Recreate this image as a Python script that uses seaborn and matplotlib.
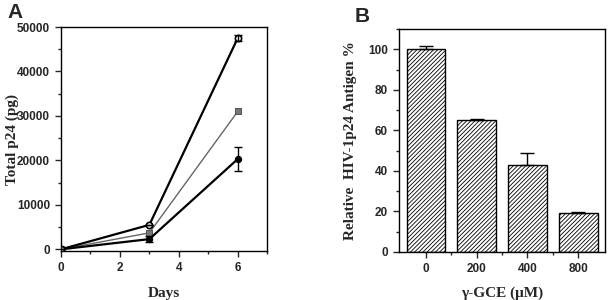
import matplotlib
matplotlib.use("Agg")
import matplotlib.pyplot as plt
import pandas as pd
import seaborn as sns
from matplotlib.ticker import MultipleLocator

# panel A: total p24 over days
days = [0, 3, 6]
open_circle = [0, 5500, 47500]
open_circle_err = [0, 0, 700]
grey_square = [0, 3700, 31000]
filled_circle = [0, 2300, 20300]
filled_circle_err = [0, 700, 2700]

# panel B: relative antigen vs concentration
gce = ["0", "200", "400", "800"]
rel_antigen = [100, 65.3, 43, 19]
rel_err = [1.5, 0.4, 5.8, 0.5]

sns.set_style("ticks")
plt.rcParams['font.family'] = ['Liberation Sans', 'DejaVu Sans']
plt.rcParams['hatch.linewidth'] = 0.6

tick_font = dict(family='Liberation Sans', weight='bold', size=8.5)
lab_font = dict(family='Liberation Serif', weight='bold', size=11)

fig = plt.figure(figsize=(6.1, 3.0), dpi=100)
ax1 = fig.add_axes([0.100, 0.163, 0.338, 0.747])
ax2 = fig.add_axes([0.654, 0.160, 0.338, 0.743])

# ---- A ----
sns.lineplot(x=days, y=grey_square, ax=ax1, color='#666666', lw=1.0,
             marker='s', markersize=4.5, markerfacecolor='#777777', markeredgecolor='#555555')
sns.lineplot(x=days, y=filled_circle, ax=ax1, color='black', lw=1.6,
             marker='o', markersize=4.5, markerfacecolor='black', markeredgecolor='black')
ax1.errorbar(days, filled_circle, yerr=filled_circle_err, fmt='none', ecolor='black',
             elinewidth=1, capsize=3, capthick=1)
sns.lineplot(x=days, y=open_circle, ax=ax1, color='black', lw=1.6,
             marker='o', markersize=4.5, markerfacecolor='white', markeredgecolor='black',
             markeredgewidth=1.2)
ax1.errorbar(days, open_circle, yerr=open_circle_err, fmt='none', ecolor='black',
             elinewidth=1, capsize=3, capthick=1)
ax1.set_xlim(0, 7)
ax1.set_ylim(-400, 50000)
ax1.set_xticks([0, 2, 4, 6])
ax1.set_yticks([0, 10000, 20000, 30000, 40000, 50000])
ax1.xaxis.set_minor_locator(MultipleLocator(1))
ax1.yaxis.set_minor_locator(MultipleLocator(5000))
ax1.set_xlabel('Days', fontdict=lab_font, labelpad=9)
ax1.set_ylabel('Total p24 (pg)', fontdict=lab_font)
ax1.yaxis.set_label_coords(-0.205, 0.5)

# ---- B ----
df_b = pd.DataFrame({'gce': gce, 'val': rel_antigen})
sns.barplot(data=df_b, x='gce', y='val', ax=ax2, color='white', edgecolor='black',
            linewidth=1.0, width=0.76, hatch='////////', errorbar=None)
ax2.errorbar(range(len(gce)), rel_antigen, yerr=[[0] * len(rel_err), rel_err],
             fmt='none', ecolor='black', elinewidth=1, capsize=5, capthick=1)
ax2.set_xlim(-0.53, 3.53)
ax2.set_ylim(0, 110)
ax2.set_yticks([0, 20, 40, 60, 80, 100])
ax2.yaxis.set_minor_locator(MultipleLocator(10))
ax2.set_xticks([0.5, 1.5, 2.5], minor=True)
ax2.set_xlabel('γ-GCE (μM)', fontdict=lab_font, labelpad=8)
ax2.set_ylabel('Relative  HIV-1p24 Antigen %', fontdict=lab_font, labelpad=8)

for ax in (ax1, ax2):
    for s in ax.spines.values():
        s.set_visible(True)
        s.set_linewidth(1.0)
        s.set_color('black')
    ax.tick_params(which='major', direction='out', length=4, width=1, pad=4)
    ax.tick_params(which='minor', direction='out', length=2.5, width=1)
    for lab in ax.get_xticklabels() + ax.get_yticklabels():
        lab.set_fontproperties(tick_font)

fig.text(0.013, 0.96, 'A', fontsize=15, fontweight='bold', family='Liberation Sans', va='center')
fig.text(0.582, 0.945, 'B', fontsize=15, fontweight='bold', family='Liberation Sans', va='center')

fig.savefig('out.png', dpi=100)
